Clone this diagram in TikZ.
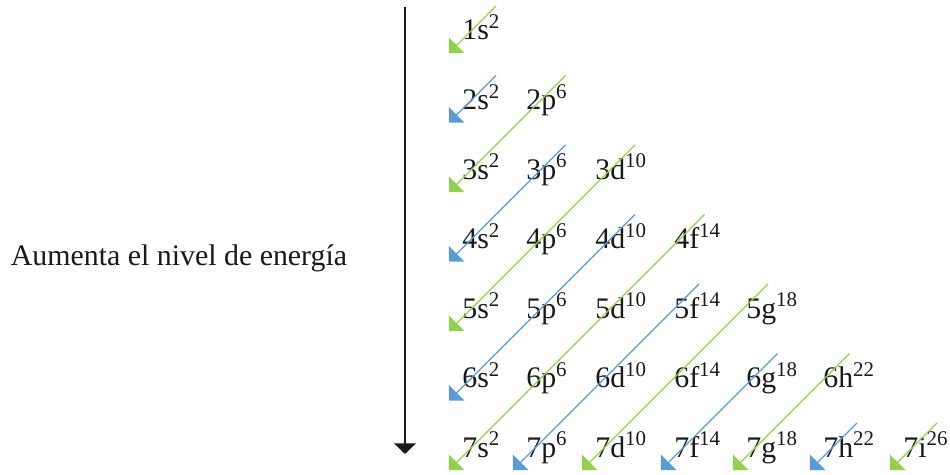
\documentclass[tikz,border=0pt]{standalone}
\usepackage{fontspec}
\setmainfont{Liberation Serif}
\usepackage{tikz}
\usetikzlibrary{arrows.meta,positioning,calc}
\definecolor{gr}{RGB}{146,208,80}
\definecolor{bl}{RGB}{91,155,213}

\begin{document}
\begin{tikzpicture}[x=0.02cm,y=0.02cm,
    orb/.style={anchor=base west, inner sep=0pt, text=black!90, font=\fontsize{17}{20}\selectfont},
    diag/.style={line width=0.75pt, arrows={Triangle[length=6.2pt,width=12.4pt]-}}]
    \useasboundingbox (0,0) rectangle (950,474);

    % energy axis
    \coordinate (top) at (405,467);
    \coordinate (bot) at (405,20);
    \draw[line width=1.7pt, black!90, -{Triangle[length=6pt,width=12pt]}] (top) -- (bot);
    \node[anchor=base, inner sep=0pt, text=black!90, font=\fontsize{17}{20}\selectfont] (lbl) at (179,209) {Aumenta el nivel de energía};

    % orbitals, row n has n columns
    \foreach \n in {1,...,7} {
        \foreach \l/\e/\x [count=\c] in {s/2/462,p/6/526,d/10/595,f/14/674,g/18/746,h/22/823,i/26/903} {
            \ifnum\c>\n\relax\else
                \node[orb] (\l\n) at (\x,{434-69.5*(\n-1)}) {\n\l\textsuperscript{\e}};
            \fi
        }
    }

    % diagonals (filling order), tip at the last orbital
    \foreach \b/\k/\col in {s1/0/gr,s2/0/bl,s3/1/gr,s4/1/bl,s5/2/gr,s6/2/bl,s7/3/gr,
                            p7/2/bl,d7/2/gr,f7/1/bl,g7/1/gr,h7/0/bl,i7/0/gr} {
        \draw[diag, \col] ([shift={(-13,-13)}]\b.base west) -- ++({69.5*\k+47},{69.5*\k+47});
    }
\end{tikzpicture}
\end{document}
